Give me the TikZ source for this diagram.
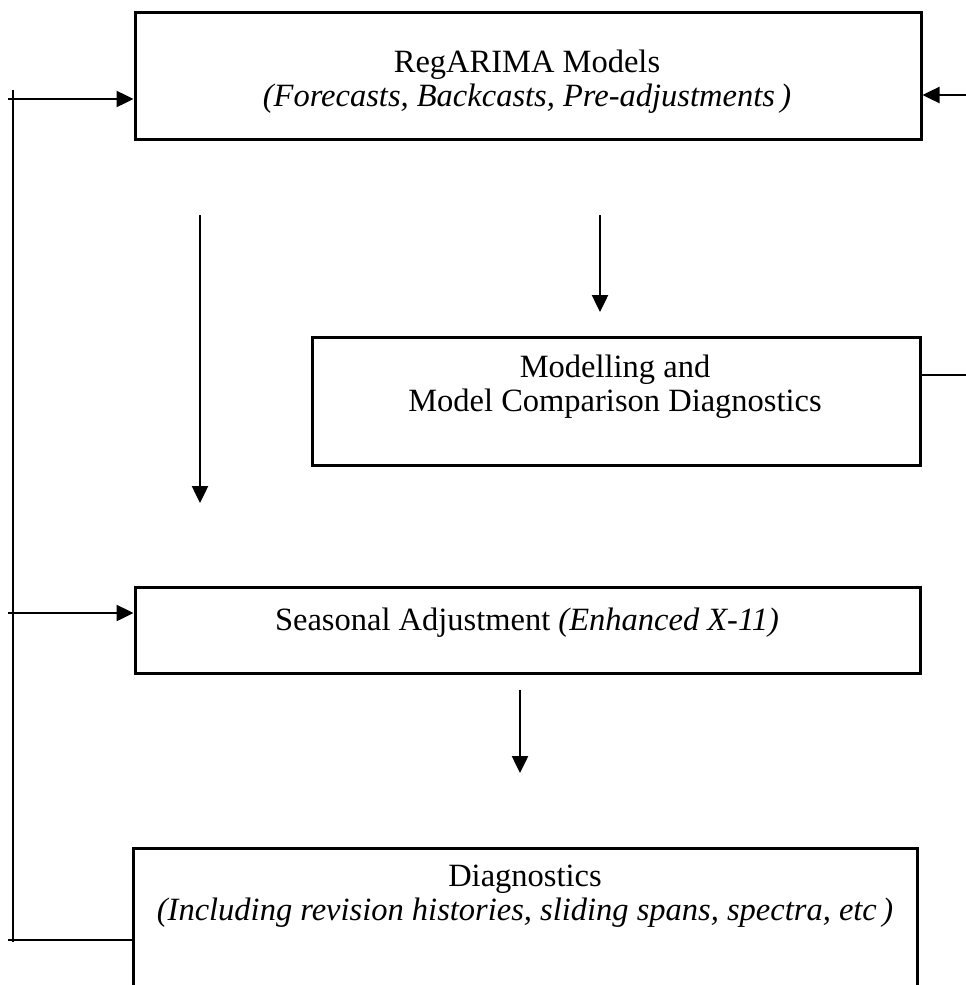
\documentclass[tikz,border=0pt]{standalone}
\usepackage{fontspec}
\setmainfont{Liberation Serif}
\usetikzlibrary{arrows.meta}
\tikzset{
  box/.style={draw, line width=3pt, rectangle, inner sep=0pt},
  txt/.style={font=\fontsize{32.5}{34}\selectfont, align=center, inner sep=0pt},
  arr/.style={line width=2.5pt, -{Triangle[length=17pt,width=16pt]}},
  ln/.style={line width=2.5pt}
}
\begin{document}
\begin{tikzpicture}[x=1pt,y=-1pt]
    \useasboundingbox (0,0) rectangle (966,985);
    % RegARIMA
    \node[box, minimum width=786pt, minimum height=127pt] (reg) at (528,75.5) {};
    \node[txt] (regtext) at (527,82) {RegARIMA Models\\\textit{(Forecasts, Backcasts, Pre-adjustments\,)}};
    % Modelling
    \node[box, minimum width=608pt, minimum height=128pt] (mod) at (616,401) {};
    \node[txt] (modtext) at (615,387) {Modelling and\\Model Comparison Diagnostics};
    % Seasonal adjustment
    \node[box, minimum width=785pt, minimum height=86pt] (sa) at (527.5,630) {};
    \node[txt] (satext) at (527,623) {Seasonal Adjustment \textit{(Enhanced X-11)}};
    % Diagnostics
    \node[box, minimum width=784pt, minimum height=162pt] (diag) at (525,929) {};
    \node[txt] (diagtext) at (525,896) {Diagnostics\\\textit{(Including revision histories, sliding spans, spectra, etc\,)}};
    % Downward arrows
    \coordinate (d1s) at (200,215);
    \coordinate (d1e) at (200,503);
    \coordinate (d2s) at (600,215);
    \coordinate (d2e) at (600,312);
    \coordinate (d3s) at (520,690);
    \coordinate (d3e) at (520,773);
    \draw[arr] (d1s) -- (d1e);
    \draw[arr] (d2s) -- (d2e);
    \draw[arr] (d3s) -- (d3e);
    % Feedback loop on the left
    \coordinate (fbtop) at (13,90);
    \coordinate (fbbot) at (13,942);
    \coordinate (in1) at (8,99);
    \coordinate (in2) at (8,613);
    \coordinate (out1) at (8,940);
    \draw[ln] (fbtop) -- (fbbot);
    \draw[arr] (in1) -- (in1 -| reg.west);
    \draw[arr] (in2) -- (in2 -| sa.west);
    \draw[ln] (out1) -- (out1 -| diag.west);
    % Links on the right
    \coordinate (rin) at (966,95);
    \coordinate (rout) at (966,375);
    \draw[arr] (rin) -- (rin -| reg.east);
    \draw[ln] (rout -| mod.east) -- (rout);
\end{tikzpicture}
\end{document}
